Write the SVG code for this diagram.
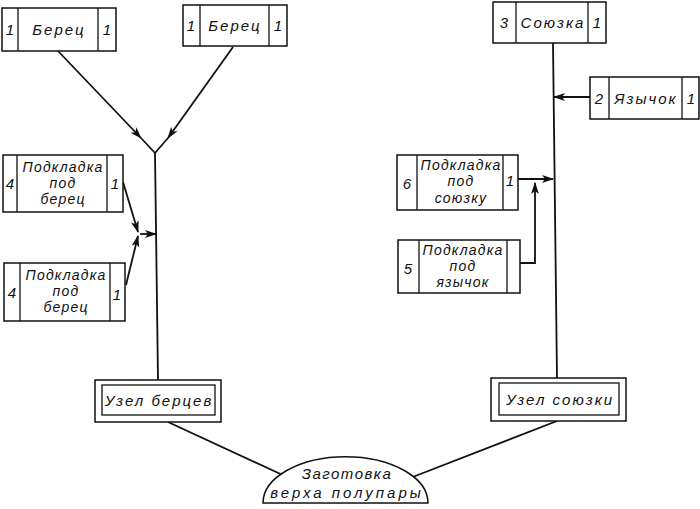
<svg xmlns="http://www.w3.org/2000/svg" width="700" height="509" viewBox="0 0 700 509">
<style>
.b{fill:#fff;stroke:#111;stroke-width:1.5}
.d{stroke:#111;stroke-width:1.3;fill:none}
.t{font-family:"Liberation Sans","DejaVu Sans",sans-serif;font-style:italic;font-size:15px;fill:#111;letter-spacing:2px}
.s{font-size:14px;letter-spacing:1.2px}
.c{text-anchor:middle}
.l{stroke:#111;stroke-width:1.8;fill:none}
</style>
<defs>
<marker id="a" viewBox="0 0 12 8" refX="11" refY="4" markerWidth="12" markerHeight="8" markerUnits="userSpaceOnUse" orient="auto">
<path d="M0,0 L12,4 L0,8 L3,4 Z" fill="#111"/>
</marker>
</defs>
<rect width="700" height="509" fill="#fff"/>
<g id="connectors">
<line class="l" x1="58" y1="51" x2="141" y2="138" marker-end="url(#a)"/>
<line class="l" x1="141" y1="138" x2="155" y2="153"/>
<line class="l" x1="233" y1="47" x2="168" y2="138" marker-end="url(#a)"/>
<line class="l" x1="168" y1="138" x2="155" y2="153"/>
<line class="l" x1="155" y1="153" x2="158" y2="380"/>
<line class="l" x1="123" y1="182" x2="138" y2="232" marker-end="url(#a)"/>
<line class="l" x1="126" y1="285" x2="138" y2="236" marker-end="url(#a)"/>
<line class="l" x1="140" y1="234" x2="156" y2="234" marker-end="url(#a)"/>
<line class="l" x1="553" y1="43" x2="557" y2="378"/>
<line class="l" x1="590" y1="97" x2="554" y2="97" marker-end="url(#a)"/>
<line class="l" x1="518" y1="179" x2="553" y2="179" marker-end="url(#a)"/>
<polyline class="l" points="520,263 535,263 535,183" marker-end="url(#a)"/>
<line class="l" x1="168" y1="422" x2="287" y2="477"/>
<line class="l" x1="557" y1="421" x2="405" y2="480"/>
</g>
<g id="n1">
<rect class="b" x="2" y="8" width="114" height="43"/>
<line class="d" x1="18" y1="8" x2="18" y2="51"/><line class="d" x1="98" y1="8" x2="98" y2="51"/>
<text class="t c" x="11" y="35">1</text>
<text class="t c" x="59" y="35">Берец</text>
<text class="t c" x="108" y="35">1</text>
</g>
<g id="n2">
<rect class="b" x="183" y="5" width="104" height="41"/>
<line class="d" x1="200" y1="5" x2="200" y2="46"/><line class="d" x1="269" y1="5" x2="269" y2="46"/>
<text class="t c" x="192" y="31">1</text>
<text class="t c" x="235" y="31">Берец</text>
<text class="t c" x="279" y="31">1</text>
</g>
<g id="n4a">
<rect class="b" x="3" y="155" width="120" height="57"/>
<line class="d" x1="17" y1="155" x2="17" y2="212"/><line class="d" x1="107" y1="155" x2="107" y2="212"/>
<text class="t c" x="11" y="189">4</text>
<text class="t s c" x="63" y="172">Подкладка</text>
<text class="t s c" x="63" y="188">под</text>
<text class="t s c" x="63" y="204">берец</text>
<text class="t c" x="116" y="189">1</text>
</g>
<g id="n4b">
<rect class="b" x="4" y="263" width="121" height="58"/>
<line class="d" x1="20" y1="263" x2="20" y2="321"/><line class="d" x1="110" y1="263" x2="110" y2="321"/>
<text class="t c" x="13" y="298">4</text>
<text class="t s c" x="66" y="280">Подкладка</text>
<text class="t s c" x="66" y="296">под</text>
<text class="t s c" x="66" y="312">берец</text>
<text class="t c" x="118" y="300">1</text>
</g>
<g id="n3">
<rect class="b" x="493" y="2" width="113" height="41"/>
<line class="d" x1="516" y1="2" x2="516" y2="43"/><line class="d" x1="588" y1="2" x2="588" y2="43"/>
<text class="t c" x="505" y="28">3</text>
<text class="t c" x="553" y="28">Союзка</text>
<text class="t c" x="598" y="28">1</text>
</g>
<g id="n2r">
<rect class="b" x="590" y="77" width="109" height="42"/>
<line class="d" x1="609" y1="77" x2="609" y2="119"/><line class="d" x1="682" y1="77" x2="682" y2="119"/>
<text class="t c" x="600" y="104">2</text>
<text class="t c" x="646" y="104">Язычок</text>
<text class="t c" x="692" y="104">1</text>
</g>
<g id="n6">
<rect class="b" x="397" y="155" width="121" height="55"/>
<line class="d" x1="417" y1="155" x2="417" y2="210"/><line class="d" x1="503" y1="155" x2="503" y2="210"/>
<text class="t c" x="408" y="189">6</text>
<text class="t s c" x="461" y="170">Подкладка</text>
<text class="t s c" x="461" y="186">под</text>
<text class="t s c" x="461" y="203">союзку</text>
<text class="t c" x="511" y="186">1</text>
</g>
<g id="n5">
<rect class="b" x="398" y="240" width="122" height="53"/>
<line class="d" x1="419" y1="240" x2="419" y2="293"/><line class="d" x1="507" y1="240" x2="507" y2="293"/>
<text class="t c" x="409" y="274">5</text>
<text class="t s c" x="463" y="255">Подкладка</text>
<text class="t s c" x="463" y="271">под</text>
<text class="t s c" x="463" y="287">язычок</text>
</g>
<g id="nb">
<rect class="b" x="95" y="380" width="126" height="42"/>
<rect class="d" x="102" y="385" width="113" height="30"/>
<text class="t c" x="159" y="406">Узел берцев</text>
</g>
<g id="ns">
<rect class="b" x="491" y="378" width="135" height="43"/>
<rect class="d" x="499" y="383" width="120" height="32"/>
<text class="t c" x="560" y="405">Узел союзки</text>
</g>
<g id="nz">
<path class="b" d="M263,503 A82,46 0 0 1 428,503 Z"/>
<text class="t c" x="347" y="479" style="letter-spacing:1.5px">Заготовка</text>
<text class="t c" x="347" y="498" style="letter-spacing:3px">верха полупары</text>
</g>
</svg>
